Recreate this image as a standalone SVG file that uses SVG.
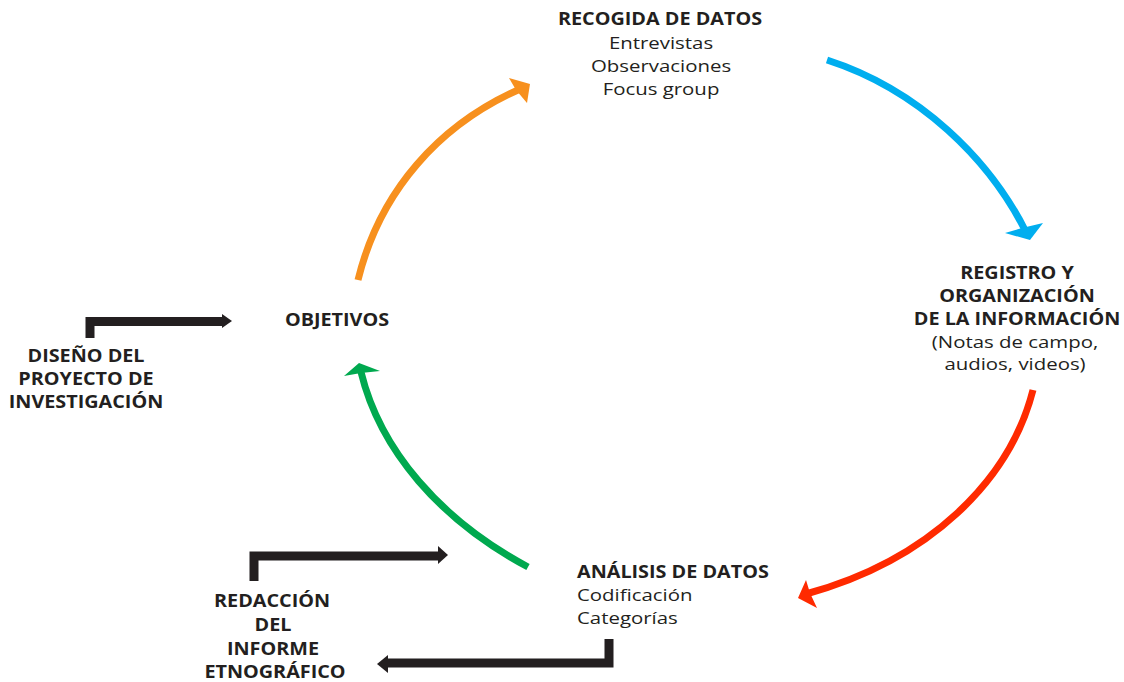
<svg xmlns="http://www.w3.org/2000/svg" width="1124" height="682" viewBox="0 0 1124 682">
<style>
text{font-family:"Open Sans","Liberation Sans",sans-serif;font-size:17px;fill:#231F20}
.b{font-weight:bold}
.c{text-anchor:middle}
.arc{fill:none;stroke-width:7}
.elb{fill:none;stroke:#231F20;stroke-width:9}
</style>
<rect width="1124" height="682" fill="#fff"/>
<g id="connectors">
<path class="arc" stroke="#F7901E" d="M358,280 C380,190 440,125 518,90"/>
<polygon fill="#F7901E" points="530,84 509,78 516,90 527,103"/>
<path class="arc" stroke="#00AEEF" d="M827,60 C920,90 990,160 1026,232"/>
<polygon fill="#00AEEF" points="1030,240 1005,233 1022,228 1043,223"/>
<path class="arc" stroke="#FF2A00" d="M1033,390 C1010,480 930,560 806,594"/>
<polygon fill="#FF2A00" points="798,598 806,580 810,593 817,608"/>
<path class="arc" stroke="#00A94F" d="M528,567 C440,520 380,450 361,372"/>
<polygon fill="#00A94F" points="359,363 344,376 361,373 380,371"/>
<path class="elb" d="M90,338 V321.5 H222"/>
<polygon fill="#231F20" points="232,321 222,314 222,328"/>
<path class="elb" d="M254,581 V556 H438"/>
<polygon fill="#231F20" points="448,555 438,546 438,564"/>
<path class="elb" d="M609,639 V663 H388"/>
<polygon fill="#231F20" points="377,664 388,655 388,673"/>
</g>
<g id="recogida">
<text class="b c" transform="translate(660,25) scale(1.165,1)">RECOGIDA DE DATOS</text>
<text class="c" transform="translate(661,49) scale(1.2,1)">Entrevistas</text>
<text class="c" transform="translate(661,72) scale(1.2,1)">Observaciones</text>
<text class="c" transform="translate(661,95) scale(1.2,1)">Focus group</text>
</g>
<g id="registro">
<text class="b c" transform="translate(1017,279) scale(1.165,1)">REGISTRO Y</text>
<text class="b c" transform="translate(1017,302) scale(1.165,1)">ORGANIZACIÓN</text>
<text class="b c" transform="translate(1017,325) scale(1.165,1)">DE LA INFORMACIÓN</text>
<text class="c" transform="translate(1015,348) scale(1.2,1)">(Notas de campo,</text>
<text class="c" transform="translate(1015,370) scale(1.2,1)">audios, videos)</text>
</g>
<g id="analisis">
<text class="b" transform="translate(577,578) scale(1.165,1)">ANÁLISIS DE DATOS</text>
<text transform="translate(577,601) scale(1.2,1)">Codificación</text>
<text transform="translate(577,624) scale(1.2,1)">Categorías</text>
</g>
<g id="objetivos">
<text class="b c" transform="translate(337,326) scale(1.165,1)">OBJETIVOS</text>
</g>
<g id="diseno">
<text class="b c" transform="translate(86,362) scale(1.165,1)">DISEÑO DEL</text>
<text class="b c" transform="translate(86,385) scale(1.165,1)">PROYECTO DE</text>
<text class="b c" transform="translate(86,408) scale(1.165,1)">INVESTIGACIÓN</text>
</g>
<g id="redaccion">
<text class="b c" transform="translate(272,607) scale(1.165,1)">REDACCIÓN</text>
<text class="b c" transform="translate(273,631) scale(1.165,1)">DEL</text>
<text class="b c" transform="translate(273,655) scale(1.165,1)">INFORME</text>
<text class="b c" transform="translate(275,678) scale(1.165,1)">ETNOGRÁFICO</text>
</g>
</svg>
